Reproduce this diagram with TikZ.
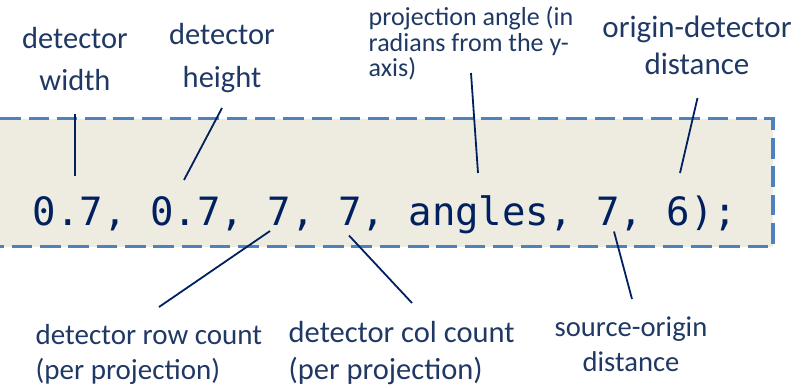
\documentclass[tikz,border=0pt]{standalone}
\usepackage{fontspec}
\setmainfont{Carlito}
\newfontfamily\codefont{DejaVu Sans Mono}
\usetikzlibrary{calc}
\definecolor{boxfill}{HTML}{EEECE1}
\definecolor{boxedge}{HTML}{4F81BD}
\definecolor{inkblue}{HTML}{1F3864}
\definecolor{codeink}{HTML}{002060}

\begin{document}
\begin{tikzpicture}[x=1bp, y=-1bp,
    lbl/.style={inner sep=0, text=inkblue, text depth=0pt},
    codeline/.style={inner sep=0, text=codeink, font=\codefont\fontsize{39bp}{40bp}\selectfont},
    callbox/.style={draw=boxedge, fill=boxfill, line width=3.5bp, dash pattern=on 20.5bp off 7.8bp},
    lead/.style={draw=codeink, line width=1.8bp}
]
    \useasboundingbox (0,0) rectangle (808,388);
    \clip (0,0) rectangle (808,388);

    % code line in its box
    \draw[callbox] (-30,118.5) rectangle (773,246.5);
    \node[codeline, anchor=base west] (call) at (-14.25,225) {, 0.7, 0.7, 7, 7, angles, 7, 6);};

    % labels above
    \node[lbl, align=center, anchor=south, font=\fontsize{30.5bp}{42bp}\selectfont] (wlbl) at (75,91) {detector\\width};
    \node[lbl, align=center, anchor=south, font=\fontsize{30.5bp}{43bp}\selectfont] (hlbl) at (222,88) {detector\\height};
    \node[lbl, align=left, anchor=south west, font=\fontsize{26bp}{25.5bp}\selectfont] (albl) at (368.5,77) {projection angle (in\\radians from the y-\\axis)};
    \node[lbl, align=center, anchor=south, font=\fontsize{31bp}{37bp}\selectfont] (dlbl) at (697,75) {origin-detector\\distance};

    % labels below
    \node[lbl, align=left, anchor=south west, font=\fontsize{29bp}{35bp}\selectfont] (rlbl) at (35.5,380) {detector row count\\(per projection)};
    \node[lbl, align=left, anchor=south west, font=\fontsize{30.5bp}{37bp}\selectfont] (clbl) at (288.5,380) {detector col count\\(per projection)};
    \node[lbl, align=center, anchor=south, font=\fontsize{28.6bp}{35bp}\selectfont] (slbl) at (631,372) {source-origin\\distance};

    % where each lead touches the code
    \coordinate (wtip) at (75,176);
    \coordinate (htip) at (184,180);
    \coordinate (atip) at (478,173);
    \coordinate (dtip) at (680,173);
    \coordinate (rtip) at (270,231);
    \coordinate (ctip) at (349,235.5);
    \coordinate (stip) at (614,231.5);

    \draw[lead] ($(wlbl.south)+(0,23)$) -- (wtip);
    \draw[lead] ($(hlbl.south)+(0,20)$) -- (htip);
    \draw[lead] ($(albl.south west)+(102.5,-4)$) -- (atip);
    \draw[lead] ($(dlbl.south)+(0.5,23)$) -- (dtip);
    \draw[lead] ($(rlbl.south west)+(123.5,-73)$) -- (rtip);
    \draw[lead] ($(clbl.south west)+(123.5,-77)$) -- (ctip);
    \draw[lead] ($(slbl.south)+(1,-73)$) -- (stip);
\end{tikzpicture}
\end{document}
